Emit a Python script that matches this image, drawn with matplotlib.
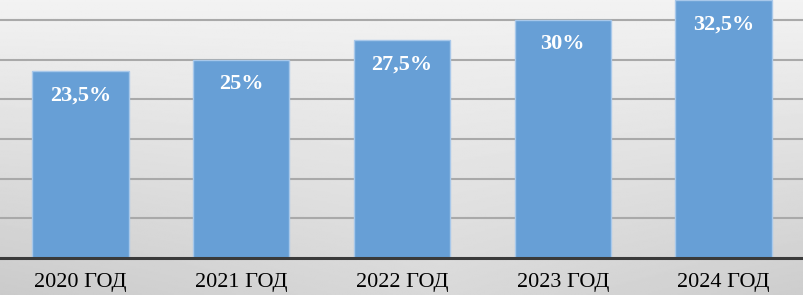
import numpy as np
import matplotlib.pyplot as plt

# -- Data:
years = ['2020 ГОД', '2021 ГОД', '2022 ГОД', '2023 ГОД', '2024 ГОД']
shares = [23.5, 25, 27.5, 30, 32.5]
labels = ['23,5%', '25%', '27,5%', '30%', '32,5%']

fig = plt.figure(figsize=(8.04, 2.95), dpi=100)

# -- Grey gradient background:
bg = fig.add_axes([0, 0, 1, 1], zorder=-1)
yy, xx = np.mgrid[0:1:200j, 0:1:400j]
shade = 0.95 - 0.10 * yy - 0.05 * np.abs(xx - 0.55) * 2 * yy
bg.imshow(shade, cmap='gray', vmin=0, vmax=1, aspect='auto', extent=[0, 1, 1, 0])
bg.set_axis_off()

# -- Bars:
ax = fig.add_axes([0, 37 / 295, 1, 258 / 295])
ax.set_facecolor('none')
x = np.arange(len(years))
bars = ax.bar(x, shares, width=0.6, color='#679fd6', edgecolor='#a8c8ea', linewidth=1, zorder=3)

for b, lab in zip(bars, labels):
    ax.text(b.get_x() + b.get_width() / 2, b.get_height() - 3.1, lab,
            ha='center', va='center', color='white', fontsize=16,
            fontweight='bold', family='Liberation Serif', zorder=4)

ax.set_xlim(-0.5, len(years) - 0.5)
ax.set_ylim(0, 32.5)
ax.set_yticks(np.arange(5, 35, 5))
ax.yaxis.grid(True, color='#a9a9a9', linewidth=1.5, zorder=1)
ax.tick_params(axis='y', left=False, labelleft=False)
ax.set_xticks(x)
ax.set_xticklabels(years, family='Liberation Serif', fontsize=16, color='black')
ax.tick_params(axis='x', length=0, pad=11)
for s in ['top', 'left', 'right']:
    ax.spines[s].set_visible(False)
ax.spines['bottom'].set_color('#3a3a3a')
ax.spines['bottom'].set_linewidth(2.2)
ax.spines['bottom'].set_zorder(5)

fig.savefig('out.png', dpi=100)
